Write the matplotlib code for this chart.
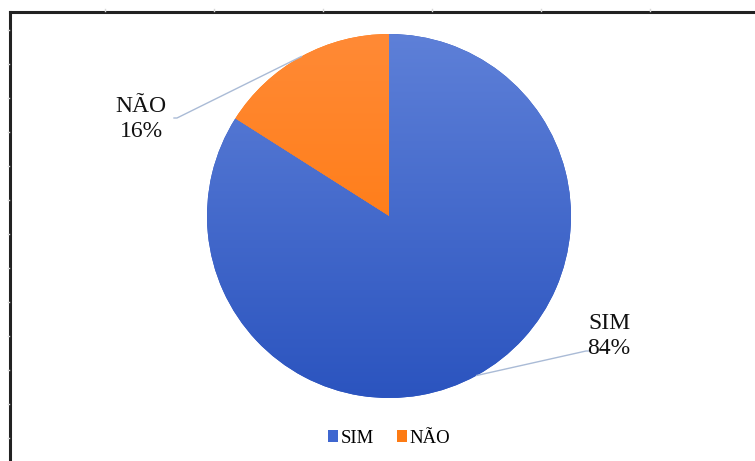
import numpy as np
import matplotlib
matplotlib.use("Agg")
import matplotlib.pyplot as plt
from matplotlib.colors import LinearSegmentedColormap
from matplotlib.patches import Patch
from matplotlib.lines import Line2D

# ── Data ──────────────────────────────────────────────────────────
labels = ["SIM", "NÃO"]
shares = [84, 16]

# ── Style ─────────────────────────────────────────────────────────
BLUE_TOP, BLUE_BOT = "#5e80d8", "#2b54bf"
ORANGE_TOP, ORANGE_BOT = "#ff8a36", "#ff7300"
LEGEND_COLORS = ["#3f67d0", "#fd7b14"]
LEADER = "#aabbd6"
SERIF = ["Liberation Serif", "DejaVu Serif"]

W, H = 755, 461
fig = plt.figure(figsize=(W / 100, H / 100), dpi=100, facecolor="white")
ax = fig.add_axes([0, 0, 1, 1])

cx, cy, r = 389, H - 216, 182

wedges, _ = ax.pie(shares, startangle=90, counterclock=False,
                   center=(cx, cy), radius=r,
                   colors=[BLUE_BOT, ORANGE_BOT],
                   wedgeprops=dict(linewidth=0))

# vertical gradient inside each slice
grad = np.linspace(1, 0, 256).reshape(-1, 1)
for w, (c_top, c_bot) in zip(wedges, [(BLUE_TOP, BLUE_BOT), (ORANGE_TOP, ORANGE_BOT)]):
    cmap = LinearSegmentedColormap.from_list("g", [c_bot, c_top])
    im = ax.imshow(grad, cmap=cmap, extent=[cx - r, cx + r, cy - r, cy + r],
                   aspect="auto", zorder=2, origin="upper")
    im.set_clip_path(w)

# labels + leader lines, anchored on the middle of each slice arc
label_pos = [(609, H - 336), (141, H - 119)]
leader_end = [(586, H - 351), (177, H - 118)]
for w, name, val, (tx, ty), (lx, ly) in zip(wedges, labels, shares, label_pos, leader_end):
    mid = np.deg2rad(0.5 * (w.theta1 + w.theta2))
    ex, ey = cx + r * np.cos(mid), cy + r * np.sin(mid)
    dx = 3 if lx > cx else -3
    ax.plot([ex, lx, lx + dx], [ey, ly, ly], color=LEADER, lw=1.0, zorder=3)
    ax.text(tx, ty, f"{name}\n{val}%", ha="center", va="center",
            fontsize=17, family=SERIF, color="#111111", linespacing=1.25, zorder=4)

ax.set_xlim(0, W)
ax.set_ylim(0, H)
ax.set_aspect("auto")
ax.axis("off")

# outer frame (left and top edges) with small ruler ticks
ax.add_line(Line2D([10, 10], [0, H - 12], color="#222222", lw=2.2, zorder=5))
ax.add_line(Line2D([10, W], [H - 12, H - 12], color="#222222", lw=2.2, zorder=5))
for x in range(105, W, 109):
    ax.add_line(Line2D([x, x], [H - 9.5, H - 11], color="#d8d8d8", lw=1, zorder=5))
for y in range(30, H, 34):
    ax.add_line(Line2D([7.5, 9], [H - y, H - y], color="#d8d8d8", lw=1, zorder=5))

handles = [Patch(facecolor=c, edgecolor="none") for c in LEGEND_COLORS]
leg = ax.legend(handles, labels, loc="center", bbox_to_anchor=(389 / W, 1 - 438 / H),
                ncol=2, frameon=False, handlelength=0.55, handleheight=0.55,
                handletextpad=0.15, columnspacing=1.2,
                prop=dict(family=SERIF, size=13.5))

fig.savefig("out.png", dpi=100, facecolor="white")
